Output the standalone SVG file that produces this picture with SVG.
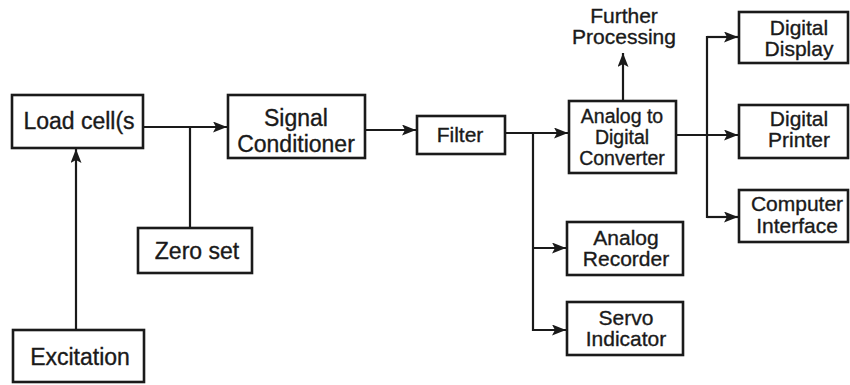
<svg xmlns="http://www.w3.org/2000/svg" width="850" height="385" viewBox="0 0 850 385">
<style>
.box{fill:#fff;stroke:#1a1a1a;stroke-width:2.6}
.t{font-family:"Liberation Sans",Arial,sans-serif;font-size:21px;fill:#1a1a1a;text-anchor:middle;stroke:#1a1a1a;stroke-width:0.35}
.big{font-size:23px}
.sm{font-size:19.5px}
.c{fill:none;stroke:#1a1a1a;stroke-width:2.2}
</style>
<defs>
<marker id="ah" markerUnits="userSpaceOnUse" markerWidth="15" markerHeight="11" refX="14" refY="5.5" orient="auto">
<path d="M0,0 L14,5.5 L0,11 L3,5.5 Z" fill="#1a1a1a"/>
</marker>
</defs>
<rect width="850" height="385" fill="#fff"/>
<g id="connectors">
<line class="c" x1="143" y1="127" x2="227" y2="127" marker-end="url(#ah)"/>
<line class="c" x1="190" y1="127" x2="190" y2="228"/>
<line class="c" x1="76" y1="330" x2="76" y2="149" marker-end="url(#ah)"/>
<line class="c" x1="365" y1="130" x2="416" y2="130" marker-end="url(#ah)"/>
<line class="c" x1="505" y1="133" x2="568" y2="133" marker-end="url(#ah)"/>
<polyline class="c" points="533,133 533,330 566,330" marker-end="url(#ah)"/>
<line class="c" x1="533" y1="248" x2="566" y2="248" marker-end="url(#ah)"/>
<line class="c" x1="623" y1="100" x2="623" y2="53" marker-end="url(#ah)"/>
<line class="c" x1="676" y1="135" x2="738" y2="135" marker-end="url(#ah)"/>
<polyline class="c" points="738,37 707,37 707,217 738,217"/>
<line class="c" x1="707" y1="37" x2="738" y2="37" marker-end="url(#ah)"/>
<line class="c" x1="707" y1="217" x2="738" y2="217" marker-end="url(#ah)"/>
</g>
<g id="loadcell">
<rect class="box" x="12" y="95" width="131" height="53"/>
<text class="t big" x="79" y="129">Load cell(s</text>
</g>
<g id="signalconditioner">
<rect class="box" x="228" y="95" width="137" height="63"/>
<text class="t big" x="296" y="126">Signal</text>
<text class="t big" x="296" y="152">Conditioner</text>
</g>
<g id="zeroset">
<rect class="box" x="138" y="228" width="114" height="45"/>
<text class="t big" x="197" y="259">Zero set</text>
</g>
<g id="excitation">
<rect class="box" x="13" y="330" width="131" height="52"/>
<text class="t big" x="80" y="365">Excitation</text>
</g>
<g id="filter">
<rect class="box" x="417" y="116" width="88" height="38"/>
<text class="t" x="460" y="142">Filter</text>
</g>
<g id="adc">
<rect class="box" x="569" y="101" width="107" height="72"/>
<text class="t sm" x="622" y="123">Analog to</text>
<text class="t sm" x="622" y="144">Digital</text>
<text class="t sm" x="622" y="165">Converter</text>
</g>
<g id="further">
<text class="t" x="624" y="23">Further</text>
<text class="t" x="624" y="44">Processing</text>
</g>
<g id="digitaldisplay">
<rect class="box" x="739" y="12" width="109" height="51"/>
<text class="t" x="799" y="35">Digital</text>
<text class="t" x="799" y="56">Display</text>
</g>
<g id="digitalprinter">
<rect class="box" x="739" y="105" width="109" height="53"/>
<text class="t" x="799" y="126">Digital</text>
<text class="t" x="799" y="147">Printer</text>
</g>
<g id="computerinterface">
<rect class="box" x="739" y="190" width="109" height="52"/>
<text class="t" x="797" y="211">Computer</text>
<text class="t" x="797" y="233">Interface</text>
</g>
<g id="analogrecorder">
<rect class="box" x="567" y="222" width="116" height="53"/>
<text class="t" x="626" y="245">Analog</text>
<text class="t" x="626" y="266">Recorder</text>
</g>
<g id="servoindicator">
<rect class="box" x="567" y="302" width="116" height="53"/>
<text class="t" x="626" y="325">Servo</text>
<text class="t" x="626" y="346">Indicator</text>
</g>
</svg>
